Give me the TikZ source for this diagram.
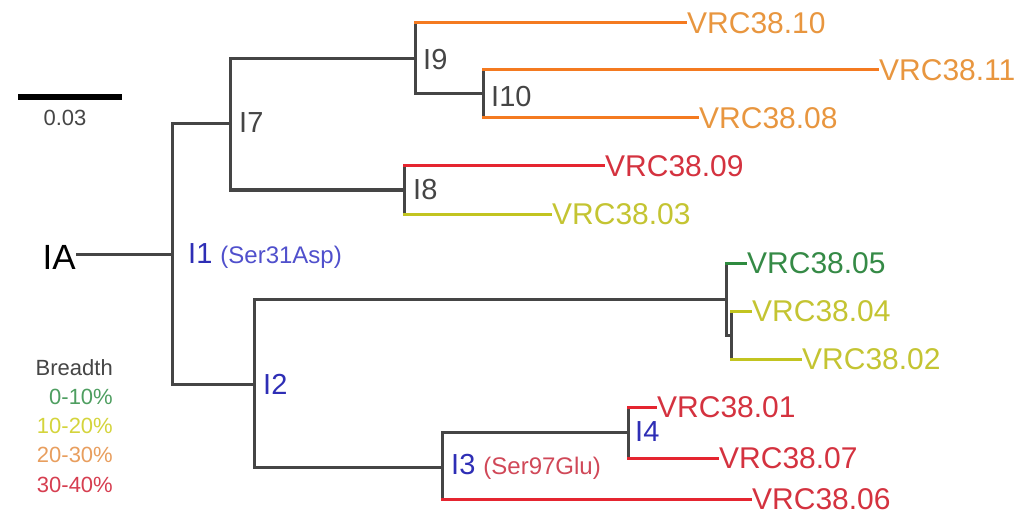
\documentclass[tikz,border=0pt]{standalone}
\usepackage{fontspec}
\setmainfont{Liberation Sans}
\usetikzlibrary{positioning}

\definecolor{branchgray}{HTML}{454545}
\definecolor{lineorange}{HTML}{F47A20}
\definecolor{textorange}{HTML}{E8963F}
\definecolor{linered}{HTML}{E52530}
\definecolor{textred}{HTML}{D4323F}
\definecolor{lineyel}{HTML}{C2C420}
\definecolor{textyel}{HTML}{C4C432}
\definecolor{linegreen}{HTML}{2E8B3F}
\definecolor{textgreen}{HTML}{358A46}
\definecolor{nodeblue}{HTML}{2E2EB5}
\definecolor{annblue}{HTML}{5050CC}
\definecolor{annred}{HTML}{D04858}
\definecolor{leggreen}{HTML}{4E9E60}
\definecolor{legyel}{HTML}{D4D43C}
\definecolor{legorange}{HTML}{E89E5E}
\definecolor{legred}{HTML}{D63E50}

\tikzset{
  branch/.style={line width=3pt, branchgray, line cap=rect},
  leaf/.style={anchor=west, inner xsep=2pt, inner ysep=0pt, font=\fontsize{30}{31}\selectfont},
  inner/.style={anchor=west, inner sep=0pt, text=branchgray, font=\fontsize{29}{30}\selectfont},
  legend/.style={anchor=east, inner sep=0pt, font=\fontsize{22}{24}\selectfont}
}

\begin{document}
\begin{tikzpicture}[x=1pt,y=-1pt]
    \useasboundingbox (0,0) rectangle (1019,513);

    % Scale bar
    \coordinate (sbL) at (18,97);
    \coordinate (sbR) at (122,97);
    \draw[line width=6pt, black] (sbL) -- (sbR);
    \node[inner sep=0pt, text=branchgray, font=\fontsize{22}{24}\selectfont] (sblab) at (65,118) {0.03};

    % Junctions
    \coordinate (n1) at (172,254);
    \coordinate (n7) at (230,124);
    \coordinate (n9) at (415,59);
    \coordinate (n10) at (483,94);
    \coordinate (n8) at (404,190);
    \coordinate (n2) at (254,384);
    \coordinate (n5) at (726,299);
    \coordinate (n6) at (731,335);
    \coordinate (n3) at (442,467);
    \coordinate (n4) at (628,432);

    % Root and leaves
    \node[anchor=east, inner sep=1pt, font=\fontsize{35}{36}\selectfont] (IA) at (77,257) {IA};
    \node[leaf, text=textorange] (v10) at (685,23) {VRC38.10};
    \node[leaf, text=textorange] (v11) at (877,70) {VRC38.11};
    \node[leaf, text=textorange] (v08) at (697,118) {VRC38.08};
    \node[leaf, text=textred] (v09) at (603,166) {VRC38.09};
    \node[leaf, text=textyel] (v03) at (550,214) {VRC38.03};
    \node[leaf, text=textgreen] (v05) at (745,263) {VRC38.05};
    \node[leaf, text=textyel] (v04) at (750,311) {VRC38.04};
    \node[leaf, text=textyel] (v02) at (800,359) {VRC38.02};
    \node[leaf, text=textred] (v01) at (655,407) {VRC38.01};
    \node[leaf, text=textred] (v07) at (717,458) {VRC38.07};
    \node[leaf, text=textred] (v06) at (750,499) {VRC38.06};

    % Inner branches
    \draw[branch] (n1 -| IA.east) -- (n1);
    \draw[branch] (n7) -| (n1) |- (n2);
    \draw[branch] (n9) -| (n7) |- (n8);
    \draw[branch] (n9 |- v10.west) -- (n9) |- (n10);
    \draw[branch] (n10 |- v11.west) -- (n10 |- v08.west);
    \draw[branch] (n8 |- v09.west) -- (n8 |- v03.west);
    \draw[branch] (n5) -| (n2) |- (n3);
    \draw[branch] (n5 |- v05.west) -- (n5) |- (n6);
    \draw[branch] (n6 |- v04.west) -- (n6 |- v02.west);
    \draw[branch] (n4) -| (n3) -- (n3 |- v06.west);
    \draw[branch] (n4 |- v01.west) -- (n4 |- v07.west);

    % Leaf branches
    \draw[branch, lineorange] (n9 |- v10.west) -- (v10.west);
    \draw[branch, lineorange] (n10 |- v11.west) -- (v11.west);
    \draw[branch, lineorange] (n10 |- v08.west) -- (v08.west);
    \draw[branch, linered] (n8 |- v09.west) -- (v09.west);
    \draw[branch, lineyel] (n8 |- v03.west) -- (v03.west);
    \draw[branch, linegreen] (n5 |- v05.west) -- (v05.west);
    \draw[branch, lineyel] (n6 |- v04.west) -- (v04.west);
    \draw[branch, lineyel] (n6 |- v02.west) -- (v02.west);
    \draw[branch, linered] (n4 |- v01.west) -- (v01.west);
    \draw[branch, linered] (n4 |- v07.west) -- (v07.west);
    \draw[branch, linered] (n3 |- v06.west) -- (v06.west);

    % Node labels
    \node[inner] (lab7) at (239,123) {I7};
    \node[inner] (lab9) at (423,60) {I9};
    \node[inner] (lab10) at (491,97) {I10};
    \node[inner] (lab8) at (413,190) {I8};
    \node[inner, anchor=base west, text=nodeblue] (lab1) at (188,263)
        {I1 {\fontsize{24}{26}\selectfont\color{annblue}(Ser31Asp)}};
    \node[inner, text=nodeblue] (lab2) at (263,384) {I2};
    \node[inner, anchor=base west, text=nodeblue] (lab3) at (451,474)
        {I3 {\fontsize{24}{26}\selectfont\color{annred}(Ser97Glu)}};
    \node[inner, text=nodeblue] (lab4) at (635,432) {I4};

    % Legend
    \node[legend, text=branchgray] (breadth) at (113,368) {Breadth};
    \node[legend, text=leggreen] (leg1) at (113,397) {0-10\%};
    \node[legend, text=legyel] (leg2) at (113,426) {10-20\%};
    \node[legend, text=legorange] (leg3) at (113,455) {20-30\%};
    \node[legend, text=legred] (leg4) at (113,485) {30-40\%};
\end{tikzpicture}
\end{document}
